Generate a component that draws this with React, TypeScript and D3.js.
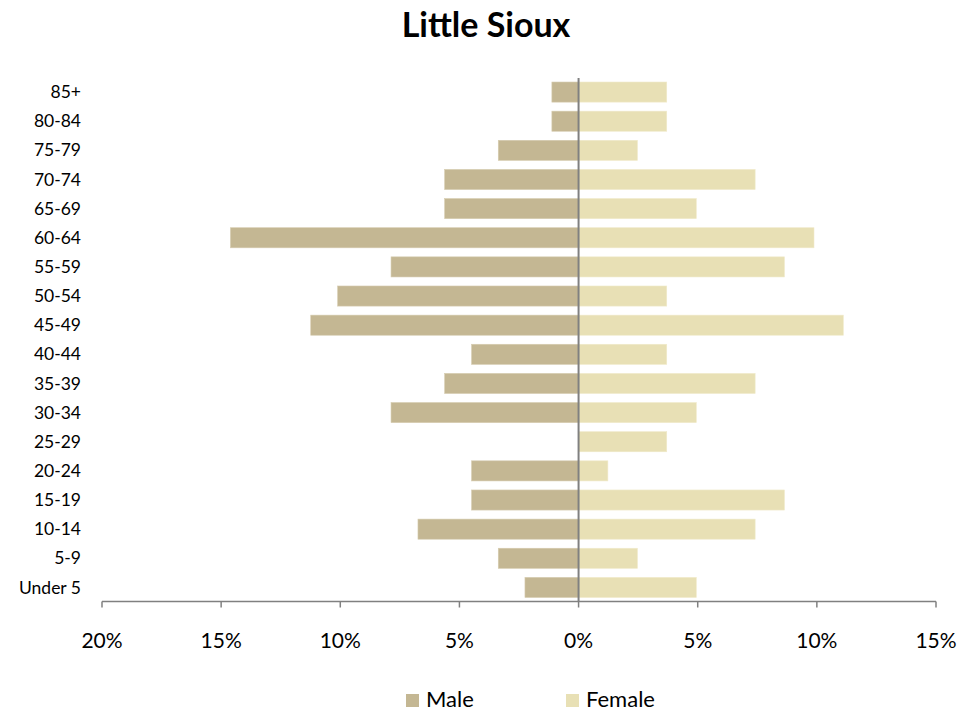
import React from "react";
import * as d3 from "d3";

const categories = ["85+", "80-84", "75-79", "70-74", "65-69", "60-64", "55-59", "50-54", "45-49", "40-44", "35-39", "30-34", "25-29", "20-24", "15-19", "10-14", "5-9", "Under 5"];
const maleValues = [1.12, 1.12, 3.37, 5.62, 5.62, 14.61, 7.87, 10.11, 11.24, 4.49, 5.62, 7.87, 0, 4.49, 4.49, 6.74, 3.37, 2.25];
const femaleValues = [3.7, 3.7, 2.47, 7.41, 4.94, 9.88, 8.64, 3.7, 11.11, 3.7, 7.41, 4.94, 3.7, 1.23, 8.64, 7.41, 2.47, 4.94];
const xTicks = [-20, -15, -10, -5, 0, 5, 10, 15];
const title = "Little Sioux";
const seriesNames = ["Male", "Female"];

const MALE = "#c4b793";
const FEMALE = "#e8e0b5";
const FONT = "Lato, 'Open Sans', sans-serif";

export default function App() {
  const W = 979, H = 713;
  const x = d3.scaleLinear().domain([-20, 15]).range([102, 936]);
  const y = d3.scaleBand<string>().domain(categories).range([77.5, 602]).paddingInner(0.31).paddingOuter(0.155);
  const axisY = 601.5;
  return (
    <svg width={W} height={H} style={{ position: "absolute", left: 0, top: 0, background: "#fff" }}>
      <text x={486} y={37} textAnchor="middle" fontFamily={FONT} fontWeight="bold" fontSize={34} fill="#000">{title}</text>
      {categories.map((c, i) => (
        <g key={c}>
          {maleValues[i] > 0 && (
            <rect x={x(-maleValues[i])} y={y(c)} width={x(0) - x(-maleValues[i])} height={y.bandwidth()} fill={MALE} stroke="#d6ccb0" strokeWidth={0.6} />
          )}
          <rect x={x(0)} y={y(c)} width={x(femaleValues[i]) - x(0)} height={y.bandwidth()} fill={FEMALE} stroke="#f0eacb" strokeWidth={0.6} />
          <text x={81} y={(y(c) as number) + y.bandwidth() / 2} dy="0.35em" textAnchor="end" fontFamily={FONT} fontSize={17.5} fill="#000">{c}</text>
        </g>
      ))}
      <line x1={x(0)} x2={x(0)} y1={78} y2={axisY} stroke="#808080" strokeWidth={2} />
      <line x1={x(-20)} x2={x(15)} y1={axisY} y2={axisY} stroke="#808080" strokeWidth={1.5} />
      {xTicks.map(t => (
        <g key={t}>
          <line x1={x(t)} x2={x(t)} y1={axisY} y2={axisY + 6} stroke="#808080" strokeWidth={1.5} />
          <text x={x(t)} y={648} textAnchor="middle" fontFamily={FONT} fontSize={21} fill="#000">{Math.abs(t) + "%"}</text>
        </g>
      ))}
      <rect x={406} y={694} width={13} height={13} fill={MALE} />
      <text x={426} y={707} fontFamily={FONT} fontSize={22} fill="#000">{seriesNames[0]}</text>
      <rect x={566} y={694} width={13} height={13} fill={FEMALE} />
      <text x={586} y={707} fontFamily={FONT} fontSize={22} fill="#000">{seriesNames[1]}</text>
    </svg>
  );
}
